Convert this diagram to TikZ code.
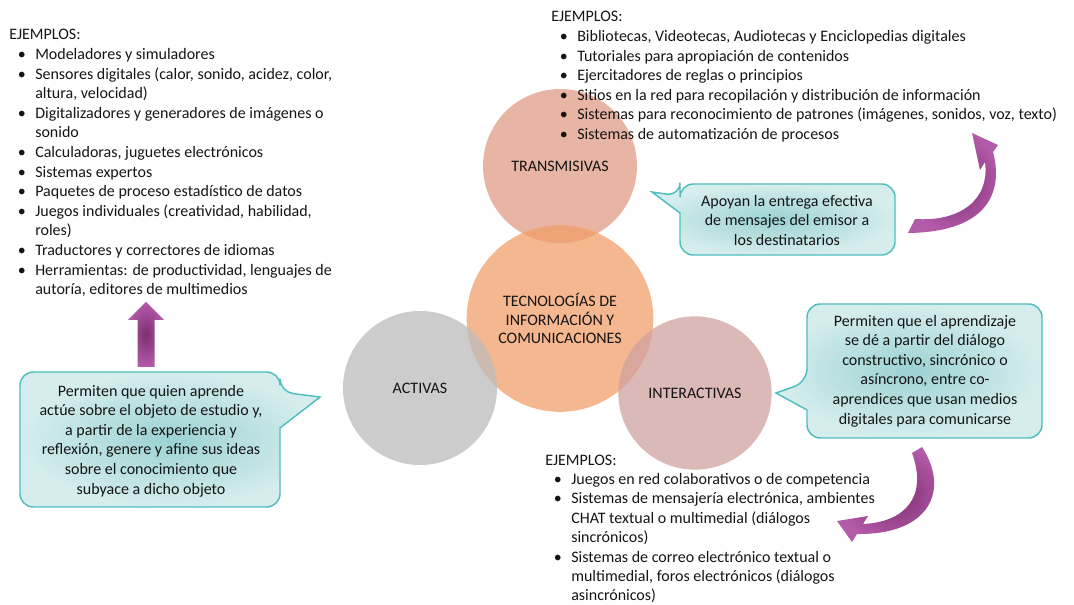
\documentclass[tikz,border=0pt]{standalone}
\usepackage{fontspec}
\setmainfont{Carlito}
\usepackage{enumitem}
\usetikzlibrary{arrows.meta}
\definecolor{txt}{HTML}{151515}
\definecolor{ctrans}{HTML}{E09C85}
\definecolor{ccenter}{HTML}{F29F6A}
\definecolor{cact}{HTML}{BBBBBB}
\definecolor{cinter}{HTML}{CFA19F}
\definecolor{callborder}{HTML}{50BEBE}
\definecolor{callin}{HTML}{9BD2D2}
\definecolor{callout}{HTML}{D6EDED}
\definecolor{arrdark}{HTML}{7D2E72}
\definecolor{arrlight}{HTML}{B35AA8}
\setlist[itemize]{leftmargin=19.5pt,labelsep=7pt,topsep=0pt,itemsep=0pt,parsep=0pt,partopsep=0pt,label={\textbullet}}
\tikzset{
  every node/.style={inner sep=0pt, text=txt},
  bodyfont/.style={font=\fontsize{12}{14.7}\selectfont},
  circ/.style={circle, minimum size=#1, fill opacity=0.75, text opacity=1, align=center, font=\fontsize{12}{13.7}\selectfont},
  calltext/.style={align=center, bodyfont},
  callshape/.style={draw=callborder, line width=1.1pt, inner color=callin, outer color=callout, rounded corners=10pt},
  purplearrow/.style={inner color=arrdark, outer color=arrlight},
}
\begin{document}
\begin{tikzpicture}[x=0.75pt,y=-0.75pt]
\useasboundingbox (0,0) rectangle (1074,605);

% circles
\node[circ=115.5pt, fill=ctrans] (trans) at (560,166) {TRANSMISIVAS};
\node[circ=140pt, fill=ccenter] (tic) at (560,318.5) {TECNOLOGÍAS DE\\INFORMACIÓN Y\\COMUNICACIONES};
\node[circ=115.5pt, fill=cact] (act) at (420,388) {ACTIVAS};
\node[circ=115pt, fill=cinter] (inter) at (695,393) {INTERACTIVAS};

% example lists
\node[bodyfont, anchor=base west] (exact) at (9,40) {\parbox[t]{400pt}{\raggedright EJEMPLOS:
\begin{itemize}
\item Modeladores y simuladores
\item Sensores digitales (calor, sonido, acidez, color,\\ altura, velocidad)
\item Digitalizadores y generadores de imágenes o\\ sonido
\item Calculadoras, juguetes electrónicos
\item Sistemas expertos
\item Paquetes de proceso estadístico de datos
\item Juegos individuales (creatividad, habilidad,\\ roles)
\item Traductores y correctores de idiomas
\item Herramientas: de productividad, lenguajes de\\ autoría, editores de multimedios
\end{itemize}}};

\node[bodyfont, anchor=base west] (extrans) at (551,22) {\parbox[t]{400pt}{\raggedright EJEMPLOS:
\begin{itemize}
\item Bibliotecas, Videotecas, Audiotecas y Enciclopedias digitales
\item Tutoriales para apropiación de contenidos
\item Ejercitadores de reglas o principios
\item Sitios en la red para recopilación y distribución de información
\item Sistemas para reconocimiento de patrones (imágenes, sonidos, voz, texto)
\item Sistemas de automatización de procesos
\end{itemize}}};

\node[font=\fontsize{12}{14.55}\selectfont, anchor=base west] (exinter) at (545,465) {\parbox[t]{400pt}{\raggedright EJEMPLOS:
\begin{itemize}
\item Juegos en red colaborativos o de competencia
\item Sistemas de mensajería electrónica, ambientes\\ CHAT textual o multimedial (diálogos\\ sincrónicos)
\item Sistemas de correo electrónico textual o\\ multimedial, foros electrónicos (diálogos\\ asincrónicos)
\end{itemize}}};

% callouts
\shadedraw[callshape] (280,460) -- (280,507) -- (20,507) -- (20,372) -- (280,372) -- (280,392) [sharp corners] -- (320,397) -- (280,428) -- cycle;
\node[calltext] (cact) at (151,441) {Permiten que quien aprende\\actúe sobre el objeto de estudio y,\\a partir de la experiencia y\\reflexión, genere y afine sus ideas\\sobre el conocimiento que\\subyace a dicho objeto};

\shadedraw[callshape] (680,230) -- (680,255) -- (895,255) -- (895,184) -- (680,184) -- (680,196) [sharp corners] -- (652,192) -- (680,213) -- cycle;
\node[calltext] (ctrans) at (787,220.5) {Apoyan la entrega efectiva\\de mensajes del emisor a\\los destinatarios};

\shadedraw[callshape] (807,425) -- (807,438) -- (1042,438) -- (1042,304) -- (807,304) -- (807,382) [sharp corners] -- (776,393) -- (807,410) -- cycle;
\node[calltext] (cinter) at (925,371) {Permiten que el aprendizaje\\se dé a partir del diálogo\\constructivo, sincrónico o\\asíncrono, entre co-\\aprendices que usan medios\\digitales para comunicarse};

% arrows
\shade[purplearrow] (137.5,367) -- (154.5,367) -- (154.5,320) -- (164,320) -- (146,302) -- (128,320) -- (137.5,320) -- cycle;
\shade[purplearrow] (972,133) -- (998,145) -- (993,152) .. controls (1002,185) and (995,232) .. (908,233) -- (915,219) .. controls (960,222) and (990,200) .. (985,162) -- (980,170) -- cycle;
\shade[purplearrow] (837,521) -- (868,516) -- (863,524) .. controls (905,522) and (928,497) .. (912,453) -- (922,447) .. controls (950,490) and (930,535) .. (857,534) -- (852,542) -- cycle;
\end{tikzpicture}
\end{document}
